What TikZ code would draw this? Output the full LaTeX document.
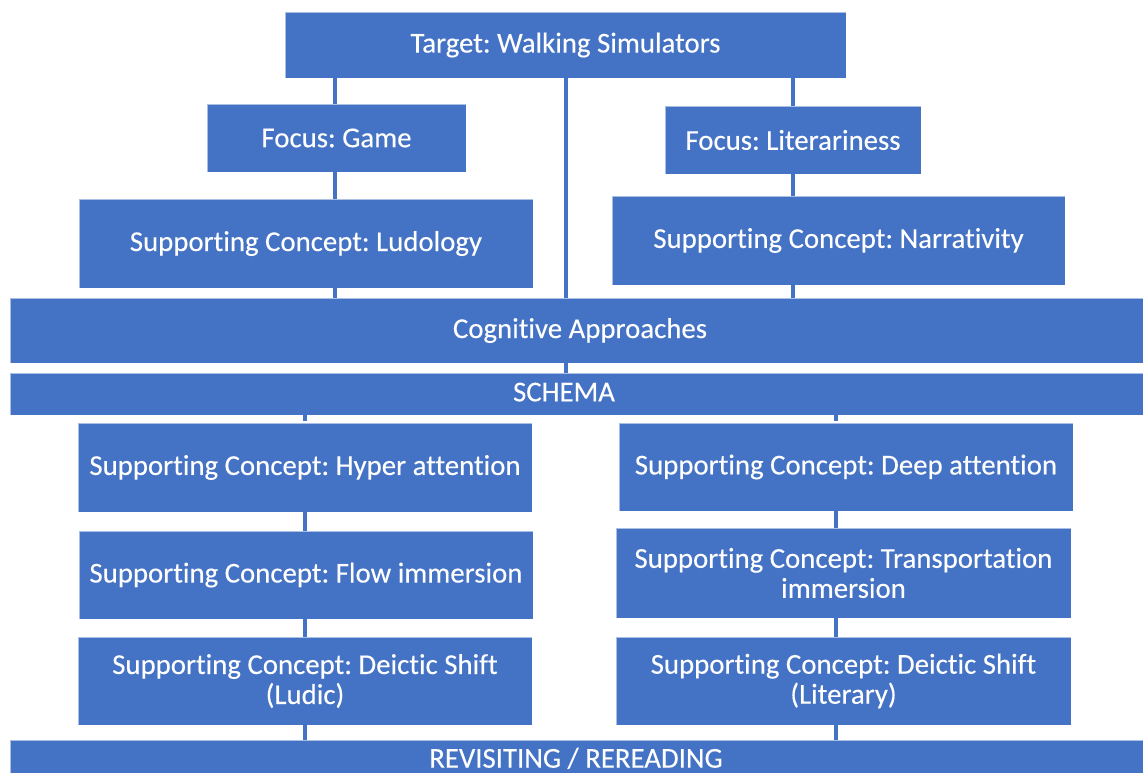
\documentclass[tikz,border=0pt]{standalone}
\usepackage{fontspec}
\setmainfont[Ligatures=NoCommon,FakeBold=0.9]{Carlito}
\definecolor{boxblue}{HTML}{4472C4}
\begin{document}
\frenchspacing
\begin{tikzpicture}[x=0.75pt,y=-0.75pt,
  bx/.style n args={2}{rectangle, fill=boxblue, draw=white, draw opacity=0.55,
    line width=0.6pt, text=white, font=\fontsize{21.6}{22.5}\selectfont,
    align=center, inner sep=0pt, minimum width=#1*0.75pt, minimum height=#2*0.75pt},
  link/.style={draw=boxblue, line width=2.4pt}]
\useasboundingbox (0,0) rectangle (1143,773);
\clip (0,0) rectangle (1143,773);

% columns of the vertical links
\coordinate (cl) at (335,0);
\coordinate (cm) at (566,0);
\coordinate (cr) at (793,0);
\coordinate (ll) at (305,0);
\coordinate (lr) at (836,0);

% upper part
\node[bx={561}{66}] (target) at (565.5,45) {\raisebox{1pt}{Target: Walking Simulators}};
\node[bx={259}{68}] (fgame) at (336.5,138) {Focus: Game};
\node[bx={256}{68}] (flit) at (793,140) {Focus: Literariness};
\node[bx={454}{89}] (ludo) at (306,243.5) {\raisebox{2pt}{Supporting Concept: Ludology}};
\node[bx={453}{89}] (narr) at (838.5,240.5) {Supporting Concept: Narrativity};
\node[bx={1140}{65}] (cog) at (580,330.5) {\raisebox{2pt}{Cognitive Approaches}};
\node[bx={1140}{42}] (schema) at (580,394) {\raisebox{3pt}{\hspace*{-24pt}SCHEMA}};

% lower part
\node[bx={454}{89}] (hyper) at (305,467.5) {Supporting Concept: Hyper attention};
\node[bx={454}{88}] (deep) at (846,467) {Supporting Concept: Deep attention};
\node[bx={454}{88}] (flow) at (306,575) {Supporting Concept: Flow immersion};
\node[bx={455}{90}] (trans) at (843.5,573) {Supporting Concept: Transportation\\immersion};
\node[bx={454}{88}] (dludic) at (305,681) {Supporting Concept: Deictic Shift\\(Ludic)};
\node[bx={455}{88}] (dlit) at (843.5,681) {Supporting Concept: Deictic Shift\\(Literary)};
\node[bx={1140}{38}] (revisit) at (580,759) {\raisebox{2pt}{\hspace*{-6pt}REVISITING / REREADING}};

% vertical links
\draw[link] (target.south -| cl) -- (fgame.north -| cl);
\draw[link] (fgame.south -| cl) -- (ludo.north -| cl);
\draw[link] (ludo.south -| cl) -- (cog.north -| cl);
\draw[link] (target.south -| cr) -- (flit.north -| cr);
\draw[link] (flit.south -| cr) -- (narr.north -| cr);
\draw[link] (narr.south -| cr) -- (cog.north -| cr);
\draw[link] (target.south -| cm) -- (cog.north -| cm);
\draw[link] (cog.south -| cm) -- (schema.north -| cm);

\draw[link] (schema.south -| ll) -- ++(0,6);
\draw[link] (schema.south -| lr) -- ++(0,6);
\draw[link] (hyper.south -| ll) -- (flow.north -| ll);
\draw[link] (flow.south -| ll) -- (dludic.north -| ll);
\draw[link] (dludic.south -| ll) -- (revisit.north -| ll);
\draw[link] (deep.south -| lr) -- (trans.north -| lr);
\draw[link] (trans.south -| lr) -- (dlit.north -| lr);
\draw[link] (dlit.south -| lr) -- (revisit.north -| lr);
\end{tikzpicture}
\end{document}
